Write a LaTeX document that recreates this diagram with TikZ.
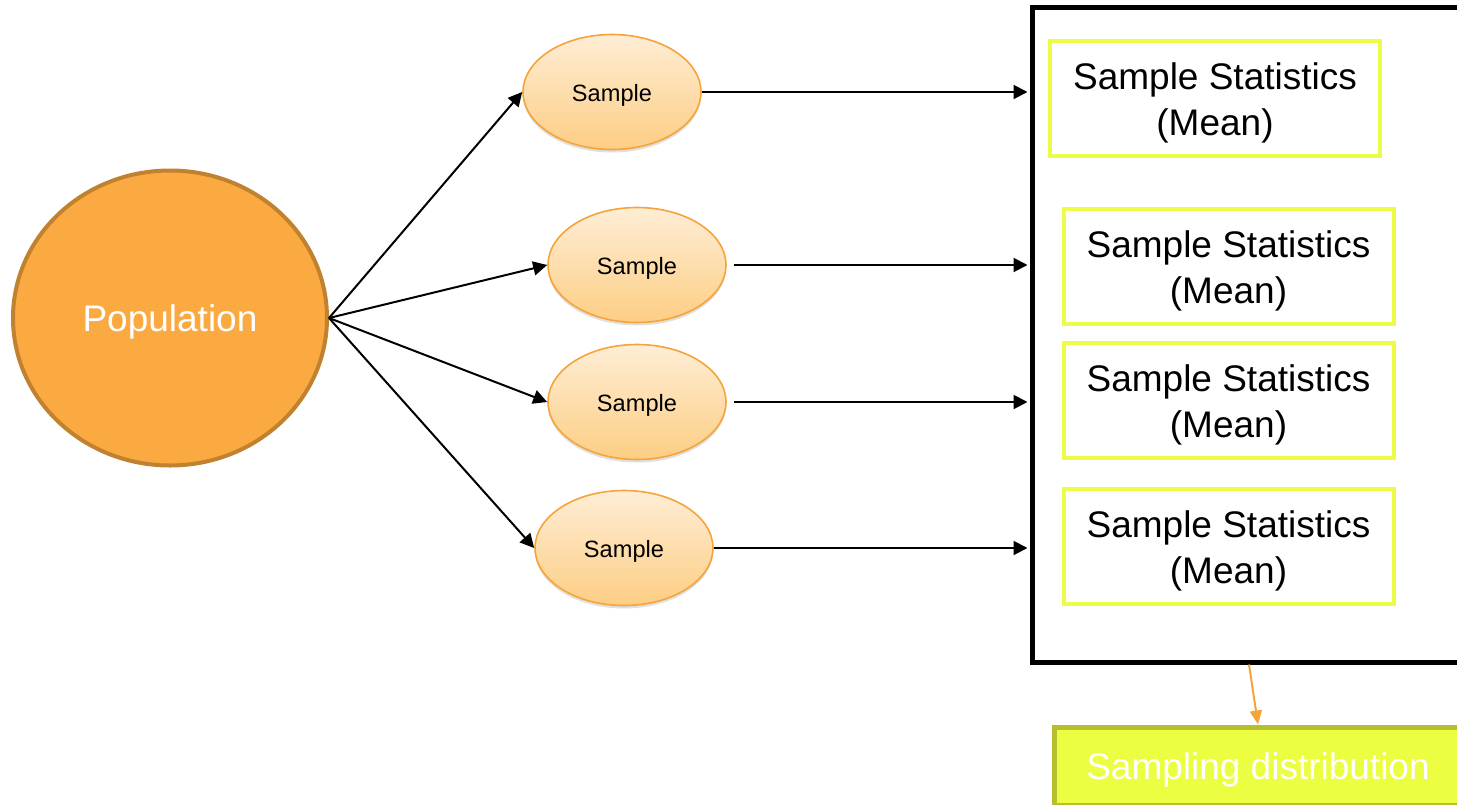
\documentclass[tikz,border=0pt]{standalone}
\usepackage{fontspec}
\setmainfont{Liberation Sans}
\usetikzlibrary{shapes.geometric,arrows.meta,shadows}
\definecolor{popfill}{HTML}{FBA941}
\definecolor{popline}{HTML}{C0822F}
\definecolor{smpline}{HTML}{F6A43A}
\definecolor{smptop}{HTML}{FEEDD5}
\definecolor{smpbot}{HTML}{FDCE84}
\definecolor{statline}{HTML}{EDFC48}
\definecolor{distfill}{HTML}{EBFE41}
\definecolor{distline}{HTML}{B6BF2E}
\begin{document}
\begin{tikzpicture}[x=0.5pt,y=-0.5pt,
    pop/.style={ellipse,draw=popline,fill=popfill,line width=2pt,
      minimum width=157pt,minimum height=147.5pt,inner sep=0pt,
      text height=17.5pt,text depth=3.9pt,
      text=white,font=\fontsize{18.5}{22}\selectfont},
    smp/.style={ellipse,draw=smpline,line width=0.8pt,
      top color=smptop,bottom color=smpbot,
      drop shadow={shadow xshift=0pt,shadow yshift=-1.5pt,opacity=0.25},
      minimum width=89pt,minimum height=57.5pt,inner sep=0pt,
      text height=11.6pt,text depth=2.5pt,
      font=\fontsize{11.8}{14}\selectfont},
    stat/.style={rectangle,draw=statline,line width=2pt,fill=white,
      minimum width=165pt,minimum height=57.5pt,align=center,
      text height=40.7pt,text depth=3.9pt,
      font=\fontsize{18.5}{23}\selectfont},
    dist/.style={rectangle,draw=distline,fill=distfill,line width=2.5pt,
      minimum width=204pt,minimum height=39pt,inner sep=0pt,
      text height=17.5pt,text depth=3.9pt,text=white,
      font=\fontsize{18.5}{22}\selectfont}]
      \useasboundingbox (0,0) rectangle (1457,804);
      \clip (0,0) rectangle (1457,804);
      \node[draw,line width=2.5pt,minimum width=217pt,minimum height=327.5pt] (frame) at (1249,334.5) {};
      \node[pop] (pop) at (170,318) {Population};
      \node[smp] (s1) at (612,92) {Sample};
      \node[smp] (s2) at (637,265) {Sample};
      \node[smp] (s3) at (637,402) {Sample};
      \node[smp] (s4) at (624,548) {Sample};
      \node[stat] (m1) at (1215,98.5) {Sample Statistics\\(Mean)};
      \node[stat] (m2) at (1228.5,266.5) {Sample Statistics\\(Mean)};
      \node[stat] (m3) at (1228.5,400.5) {Sample Statistics\\(Mean)};
      \node[stat] (m4) at (1228.5,546.5) {Sample Statistics\\(Mean)};
      \node[dist] (dist) at (1258,766) {Sampling distribution};
      \begin{scope}[line width=1pt,-{Triangle[length=7pt,width=7pt]}]
        \draw (pop.east) to (s1.west);
        \draw (pop.east) to (s2.west);
        \draw (pop.east) to (s3.west);
        \draw (pop.east) to (s4.west);
        \draw[shorten >=1pt] (s1.east) to (s1.east -| frame.west);
        \draw[shorten <=3.5pt,shorten >=1pt] (s2.east) to (s2.east -| frame.west);
        \draw[shorten <=3.5pt,shorten >=1pt] (s3.east) to (s3.east -| frame.west);
        \draw[shorten >=1pt] (s4.east) to (s4.east -| frame.west);
      \end{scope}
      \draw[smpline,line width=1pt,-{Triangle[length=7pt,width=6pt]}] (frame.south) to (dist.north);
    \end{tikzpicture}
\end{document}
